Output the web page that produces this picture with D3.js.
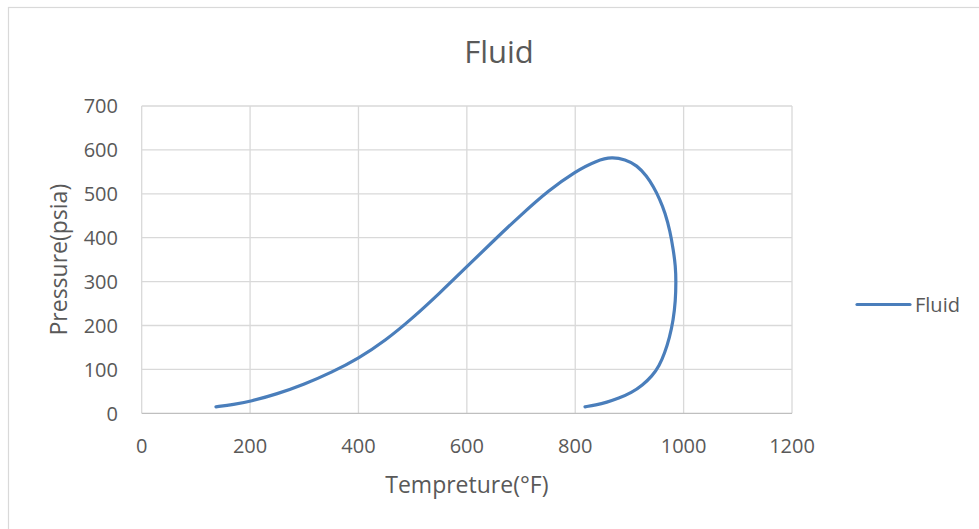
<!DOCTYPE html>
<html>
<head>
<meta charset="utf-8">
<script src="https://cdn.jsdelivr.net/npm/d3@7"></script>
<style>
  html, body { margin: 0; padding: 0; background: #fff; }
  svg { display: block; }
  text { font-family: "Open Sans", "Noto Sans", sans-serif; fill: #595959; }
</style>
</head>
<body>
<svg id="chart" width="979" height="529"></svg>
<script>
// Phase envelope of the fluid: temperature (°F) and pressure (psia)
const temperature = [137, 170, 200, 250, 300, 350, 400, 450, 500, 550, 600, 650, 700, 750, 800, 840, 868, 892, 914, 932, 944, 956, 966, 975, 981, 985, 986, 985, 981, 974, 965, 955, 942, 924, 904, 880, 858, 838, 818];
const pressure    = [14.7, 20, 27, 44, 66, 93, 125, 166, 217, 274, 334, 394, 452, 507, 551, 576, 584, 578, 565, 540, 517, 488, 456, 415, 372, 336, 300, 256, 213, 172, 137, 108, 85, 64, 47, 34, 25, 19, 14.7];

const xTicks = [0, 200, 400, 600, 800, 1000, 1200];
const yTicks = [0, 100, 200, 300, 400, 500, 600, 700];

const seriesName = "Fluid";
const chartTitle = "Fluid";
const xTitle = "Tempreture(°F)";
const yTitle = "Pressure(psia)";

const svg = d3.select("#chart");

// Outer chart frame
svg.append("rect")
  .attr("x", 8.5).attr("y", 7.5)
  .attr("width", 1000).attr("height", 600)
  .attr("fill", "#fff")
  .attr("stroke", "#d9d9d9").attr("stroke-width", 1.2);

const plot = { left: 141.7, right: 792, top: 106, bottom: 413.3 };

const x = d3.scaleLinear().domain([0, 1200]).range([plot.left, plot.right]);
const y = d3.scaleLinear().domain([0, 700]).range([plot.bottom, plot.top]);

// Gridlines
svg.append("g").selectAll("line").data(xTicks).join("line")
  .attr("x1", d => x(d)).attr("x2", d => x(d))
  .attr("y1", plot.top).attr("y2", plot.bottom)
  .attr("stroke", "#d9d9d9").attr("stroke-width", 1.3);

svg.append("g").selectAll("line").data(yTicks.filter(d => d > 0)).join("line")
  .attr("x1", plot.left).attr("x2", plot.right)
  .attr("y1", d => y(d)).attr("y2", d => y(d))
  .attr("stroke", "#d9d9d9").attr("stroke-width", 1.3);

// Horizontal axis line at zero
svg.append("line")
  .attr("x1", plot.left).attr("x2", plot.right)
  .attr("y1", y(0)).attr("y2", y(0))
  .attr("stroke", "#bfbfbf").attr("stroke-width", 1.3);

// Tick labels
svg.append("g").selectAll("text").data(xTicks).join("text")
  .attr("x", d => x(d)).attr("y", 452.5)
  .attr("text-anchor", "middle")
  .attr("font-size", 20)
  .text(d => d);

svg.append("g").selectAll("text").data(yTicks).join("text")
  .attr("x", 118).attr("y", d => y(d) + 7.3)
  .attr("text-anchor", "end")
  .attr("font-size", 20)
  .text(d => d);

// Titles
svg.append("text")
  .attr("x", 499).attr("y", 62.5)
  .attr("text-anchor", "middle")
  .attr("font-size", 31)
  .text(chartTitle);

svg.append("text")
  .attr("x", (plot.left + plot.right) / 2).attr("y", 492.5)
  .attr("text-anchor", "middle")
  .attr("font-size", 23)
  .text(xTitle);

svg.append("text")
  .attr("transform", `translate(67,${(plot.top + plot.bottom) / 2}) rotate(-90)`)
  .attr("text-anchor", "middle")
  .attr("font-size", 23)
  .text(yTitle);

// Envelope curve, smoothed through the sampled points
const pts = temperature.map((t, i) => [t, pressure[i]]);
const line = d3.line()
  .x(d => x(d[0]))
  .y(d => y(d[1]))
  .curve(d3.curveBasis);

svg.append("path")
  .datum(pts)
  .attr("d", line)
  .attr("fill", "none")
  .attr("stroke", "#4a7ebb")
  .attr("stroke-width", 3.2)
  .attr("stroke-linecap", "round")
  .attr("stroke-linejoin", "round");

// Legend
const legend = svg.append("g").attr("transform", "translate(857,304.5)");
legend.append("line")
  .attr("x1", 0).attr("x2", 53)
  .attr("y1", 0).attr("y2", 0)
  .attr("stroke", "#4a7ebb").attr("stroke-width", 3.2)
  .attr("stroke-linecap", "round");
legend.append("text")
  .attr("x", 58).attr("y", 7.5)
  .attr("font-size", 20)
  .text(seriesName);
</script>
</body>
</html>
